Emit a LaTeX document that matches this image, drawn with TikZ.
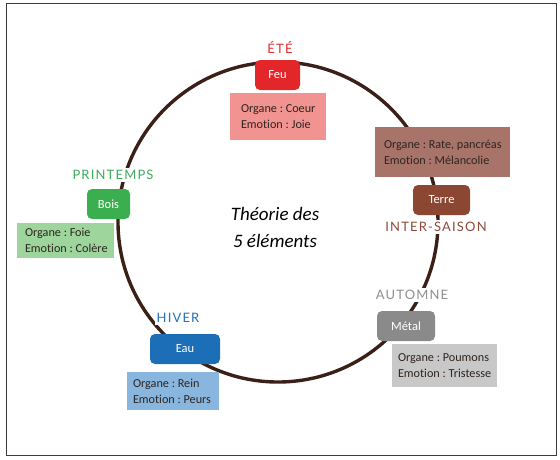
\documentclass[tikz,border=0pt]{standalone}
\usepackage{fontspec}
\setmainfont[Ligatures={NoCommon}]{Carlito}
\newfontfamily\seasonfont[LetterSpace=9]{Lato}
\newcommand\myinfofont{\fontsize{12.2}{16}\selectfont\frenchspacing}
\definecolor{ringc}{HTML}{3A2016}
\definecolor{framec}{HTML}{3C3C3C}
\definecolor{feuc}{HTML}{E3262A}
\definecolor{feuinfo}{HTML}{F19390}
\definecolor{etec}{HTML}{E4312F}
\definecolor{terrec}{HTML}{8C4732}
\definecolor{terreinfo}{HTML}{A8746A}
\definecolor{interc}{HTML}{8C4B3A}
\definecolor{boisc}{HTML}{3BAE4F}
\definecolor{boisinfo}{HTML}{9DD59D}
\definecolor{printc}{HTML}{3DAA5B}
\definecolor{metalc}{HTML}{8A8A8A}
\definecolor{metalinfo}{HTML}{C8C8C8}
\definecolor{autoc}{HTML}{8E8E8E}
\definecolor{eauc}{HTML}{1C6FB6}
\definecolor{eauinfo}{HTML}{88B6DE}
\definecolor{hiverc}{HTML}{2472B6}
\definecolor{infotext}{HTML}{2E2420}
\begin{document}
\begin{tikzpicture}[x=1pt,y=-1pt,
  elem/.style={rectangle, rounded corners=5pt, inner sep=0pt, text=white,
     font=\fontsize{12.5}{14}\selectfont, minimum height=30pt},
  infobox/.style={rectangle, inner sep=0pt},
  infotxt/.style={anchor=west, inner sep=0pt, align=left, text=infotext, font=\myinfofont},
  season/.style={fill=white, inner sep=2pt, font=\seasonfont\fontsize{13}{15}\selectfont},
  ring/.style={draw=ringc, line width=3.4pt}
]
\useasboundingbox (0,0) rectangle (560,459);
\draw[framec, line width=1.3pt] (6.5,3.5) rectangle (556.5,455.5);
\draw[ring] (278,222) circle (160pt);

% titles of seasons
\node[season, text=etec] (ete) at (280,47) {ÉTÉ};
\node[season, text=printc] (printemps) at (113,175) {PRINTEMPS};
\node[season, text=interc] (inter) at (436,227) {INTER-SAISON};
\node[season, text=autoc] (automne) at (412,295) {AUTOMNE};
\node[season, text=hiverc] (hiver) at (178,318) {HIVER};

% element boxes
\node[elem, fill=feuc, minimum width=45pt] (feu) at (277.5,75) {Feu};
\node[elem, fill=terrec, minimum width=57pt] (terre) at (441.5,200) {Terre};
\node[elem, fill=boisc, minimum width=43pt] (bois) at (108.5,204) {Bois};
\node[elem, fill=metalc, minimum width=58pt] (metal) at (406,326) {Métal};
\node[elem, fill=eauc, minimum width=70pt] (eau) at (185,349) {Eau};

% info boxes
\node[infobox, fill=feuinfo, minimum width=96pt, minimum height=47pt] (feui) at (278,116.5) {};
\node[infotxt] (feut) at ([xshift=11pt]feui.west) {Organe : Coeur\\Emotion : Joie};
\node[infobox, fill=terreinfo, minimum width=135pt, minimum height=50pt] (terrei) at (442.5,152) {};
\node[infotxt] (terret) at ([xshift=9pt]terrei.west) {Organe : Rate, pancréas\\Emotion : Mélancolie};
\node[infobox, fill=boisinfo, minimum width=97pt, minimum height=35pt] (boisi) at (65.5,240.5) {};
\node[infotxt] (boist) at ([xshift=8pt]boisi.west) {Organe : Foie\\Emotion : Colère};
\node[infobox, fill=metalinfo, minimum width=105pt, minimum height=43pt] (metali) at (444.5,365.5) {};
\node[infotxt] (metalt) at ([xshift=6pt]metali.west) {Organe : Poumons\\Emotion : Tristesse};
\node[infobox, fill=eauinfo, minimum width=92pt, minimum height=38pt] (eaui) at (173,391) {};
\node[infotxt] (eaut) at ([xshift=6pt]eaui.west) {Organe : Rein\\Emotion : Peurs};

% title
\node[align=center, font=\itshape\fontsize{19}{27}\selectfont, text=black] (title) at (275,227) {Théorie des\\5 éléments};
\end{tikzpicture}
\end{document}
